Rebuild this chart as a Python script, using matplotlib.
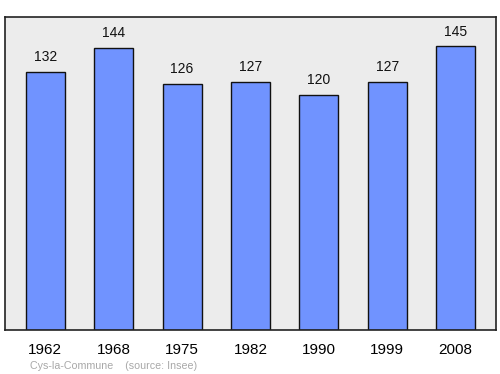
import matplotlib
matplotlib.use("Agg")
import matplotlib.pyplot as plt

years = ["1962", "1968", "1975", "1982", "1990", "1999", "2008"]
population = [132, 144, 126, 127, 120, 127, 145]
commune = "Cys-la-Commune"

plt.rcParams['font.family'] = ['Liberation Sans', 'DejaVu Sans']

fig = plt.figure(figsize=(5, 3.74), dpi=100)
# frame from x=5..496, y=17..330 in pixels
ax = fig.add_axes([5 / 500, 1 - 330 / 374, 491 / 500, 313 / 374])
ax.set_facecolor('#ececec')

x = range(len(years))
ax.bar(x, population, width=0.57, color='#7093ff', edgecolor='#111111', linewidth=1)

for i, v in enumerate(population):
    ax.text(i, v + 4, str(v), ha='center', va='bottom', fontsize=10, color='#111111')

ax.set_xlim(-0.59, 6.59)
ax.set_ylim(0, 160)
ax.set_yticks([])
ax.set_xticks(list(x))
ax.set_xticklabels(years, fontsize=11)
ax.tick_params(axis='x', length=0, pad=9)
for s in ax.spines.values():
    s.set_linewidth(1.2)
    s.set_color('#222222')

fig.text(30 / 500, 1 - 366 / 374, commune + "    (source: Insee)", fontsize=7.7,
         color='#a8a8a8', va='center', ha='left')

fig.savefig("out.png", dpi=100)
